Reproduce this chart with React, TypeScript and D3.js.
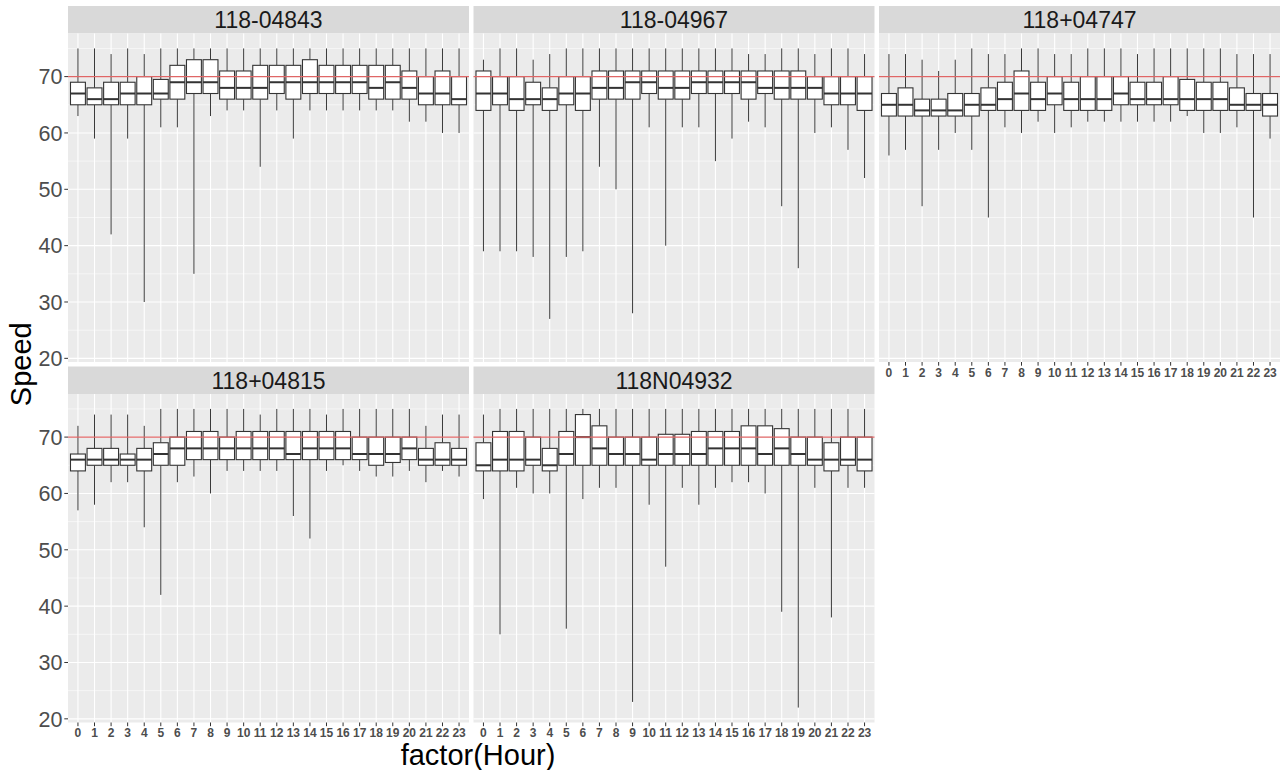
import React, { useEffect, useRef } from "react";
import * as d3 from "d3";

const hours = ["0", "1", "2", "3", "4", "5", "6", "7", "8", "9", "10", "11",
  "12", "13", "14", "15", "16", "17", "18", "19", "20", "21", "22", "23"];

const stations = ["118-04843", "118-04967", "118+04747", "118+04815", "118N04932"];

const yTicks = [20, 30, 40, 50, 60, 70];
const yMinor = [25, 35, 45, 55, 65, 75];
const speedLimit = 70;

// 118-04843
const hi04843 = [75, 75, 74, 75, 74, 75, 75, 75, 75, 75, 75, 75, 75, 75, 75, 75, 75, 75, 75, 75, 75, 75, 75, 75];
const q3_04843 = [69, 68, 69, 69, 70, 69.5, 72, 73, 73, 71, 71, 72, 72, 72, 73, 72, 72, 72, 72, 72, 71, 70, 71, 70];
const med04843 = [67, 66, 66, 67, 67, 67, 69, 69, 69, 68, 68, 68, 69, 69, 69, 69, 69, 69, 68, 69, 68, 67, 67, 66];
const q1_04843 = [65, 65, 65, 65, 65, 66, 66, 67, 67, 66, 66, 66, 67, 66, 67, 67, 67, 67, 66, 66, 66, 65, 65, 65];
const lo04843 = [63, 59, 42, 59, 30, 61, 61, 35, 63, 64, 64, 54, 64, 59, 64, 64, 64, 64, 64, 64, 62, 62, 60, 60];

// 118-04967
const hi04967 = [73, 75, 75, 73, 74, 75, 75, 75, 75, 75, 75, 75, 75, 75, 75, 75, 74, 74, 75, 75, 74, 75, 75, 74];
const q3_04967 = [71, 70, 70, 69, 68, 70, 70, 71, 71, 71, 71, 71, 71, 71, 71, 71, 71, 71, 71, 71, 70, 70, 70, 70];
const med04967 = [67, 67, 66, 66, 66, 67, 67, 68, 68, 69, 69, 68, 68, 69, 69, 69, 69, 68, 68, 68, 68, 67, 67, 67];
const q1_04967 = [64, 65, 64, 65, 64, 65, 64, 66, 66, 66, 67, 66, 66, 67, 67, 67, 66, 67, 66, 66, 66, 65, 65, 64];
const lo04967 = [39, 39, 39, 38, 27, 38, 39, 54, 50, 28, 61, 40, 61, 61, 55, 59, 62, 61, 47, 36, 60, 61, 57, 52];

// 118+04747
const hi04747 = [74, 74, 73, 71, 73, 75, 74, 74, 75, 75, 74, 74, 75, 75, 75, 74, 75, 75, 75, 75, 75, 74, 74, 74];
const q3_04747 = [67, 68, 66, 66, 67, 67, 68, 69, 71, 69, 70, 69, 70, 70, 70, 69, 69, 70, 69.5, 69, 69, 68, 67, 67];
const med04747 = [65, 65, 64, 64, 64, 65, 65, 66, 67, 66, 67, 66, 66, 66, 67, 66, 66, 66, 66, 66, 66, 65, 65, 65];
const q1_04747 = [63, 63, 63, 63, 63, 63, 64, 64, 64, 64, 65, 64, 64, 64, 65, 65, 65, 65, 64, 64, 64, 64, 64, 63];
const lo04747 = [56, 57, 47, 57, 60, 57, 45, 61, 60, 62, 60, 61, 62, 62, 62, 62, 62, 62, 63, 60, 60, 61, 45, 59];

// 118+04815
const hi04815 = [72, 74, 74, 74, 72, 75, 75, 75, 75, 75, 75, 74, 75, 75, 75, 74, 75, 75, 75, 75, 75, 72, 74, 74];
const q3_04815 = [67, 68, 68, 67, 68, 69, 70, 71, 71, 70, 71, 71, 71, 71, 71, 71, 71, 70, 70, 70, 70, 68, 69, 68];
const med04815 = [66, 66, 66, 66, 66, 67, 68, 68, 68, 68, 68, 68, 68, 67, 68, 68, 68, 67, 67, 67, 68, 66, 66, 66];
const q1_04815 = [64, 65, 65, 65, 64, 65, 65, 66, 66, 66, 66, 66, 66, 66, 66, 66, 66, 66, 65, 65.5, 66, 65, 65, 65];
const lo04815 = [57, 58, 62, 62, 54, 42, 62, 63, 60, 64, 64, 64, 64, 56, 52, 64, 65, 64, 63, 63, 64, 62, 64, 63];

// 118N04932
const hi04932 = [74, 75, 75, 75, 75, 75, 75, 75, 75, 75, 75, 75, 75, 75, 75, 75, 75, 75, 75, 75, 75, 75, 75, 75];
const q3_04932 = [69, 71, 71, 70, 68, 71, 74, 72, 70, 70, 70, 70.5, 70.5, 71, 71, 71, 72, 72, 71.5, 70, 70, 69, 70, 70];
const med04932 = [65, 66, 66, 66, 65, 67, 70, 68, 67, 67, 66, 67, 67, 67, 68, 68, 68, 67, 68, 67, 66, 66, 66, 66];
const q1_04932 = [64, 64, 64, 65, 64, 65, 65, 65, 65, 65, 65, 65, 65, 65, 65, 65, 65, 65, 65, 65, 65, 64, 65, 64];
const lo04932 = [59, 35, 61, 60, 60, 36, 59, 61, 61, 23, 58, 47, 61, 58, 61, 62, 62, 60, 39, 22, 61, 38, 61, 61];

const his = [hi04843, hi04967, hi04747, hi04815, hi04932];
const q3s = [q3_04843, q3_04967, q3_04747, q3_04815, q3_04932];
const meds = [med04843, med04967, med04747, med04815, med04932];
const q1s = [q1_04843, q1_04967, q1_04747, q1_04815, q1_04932];
const los = [lo04843, lo04967, lo04747, lo04815, lo04932];

const font = "'Liberation Sans', Arial, sans-serif";

export default function App() {
  const ref = useRef<SVGSVGElement>(null);

  const width = 1287;
  const height = 770;
  const left = 68;
  const panelW = 401;
  const gap = 4.5;
  const stripH = 27.5;
  const panelH = 328.5;
  const rowTops = [6, 366.5];

  useEffect(() => {
    const svg = d3.select(ref.current).html(null);

    // ggplot style 5% expansion over every whisker end
    const all = los.flat().concat(his.flat());
    const lo = d3.min(all) as number;
    const hi = d3.max(all) as number;
    const pad = (hi - lo) * 0.05;

    const y = d3.scaleLinear().domain([lo - pad, hi + pad]).range([panelH, 0]);
    const x = d3.scalePoint<string>().domain(hours).range([0, panelW]).padding(0.6);
    const boxW = x.step() * 0.9;

    stations.forEach((name, s) => {
      const col = s % 3;
      const row = Math.floor(s / 3);
      const x0 = left + col * (panelW + gap);
      const top = rowTops[row];

      // strip
      svg.append("rect")
        .attr("x", x0).attr("y", top)
        .attr("width", panelW).attr("height", stripH)
        .attr("fill", "#D9D9D9");
      svg.append("text")
        .attr("x", x0 + panelW / 2).attr("y", top + stripH / 2)
        .attr("dy", "0.36em")
        .attr("text-anchor", "middle")
        .attr("font-family", font).attr("font-size", 23)
        .attr("fill", "#1A1A1A")
        .text(name);

      const g = svg.append("g").attr("transform", `translate(${x0},${top + stripH})`);

      g.append("rect").attr("width", panelW).attr("height", panelH).attr("fill", "#EBEBEB");

      g.selectAll("line.minor").data(yMinor).enter().append("line")
        .attr("x1", 0).attr("x2", panelW)
        .attr("y1", (d) => y(d)).attr("y2", (d) => y(d))
        .attr("stroke", "#fff").attr("stroke-width", 0.55);
      g.selectAll("line.major").data(yTicks).enter().append("line")
        .attr("x1", 0).attr("x2", panelW)
        .attr("y1", (d) => y(d)).attr("y2", (d) => y(d))
        .attr("stroke", "#fff").attr("stroke-width", 1.1);
      g.selectAll("line.vgrid").data(hours).enter().append("line")
        .attr("x1", (d) => x(d)!).attr("x2", (d) => x(d)!)
        .attr("y1", 0).attr("y2", panelH)
        .attr("stroke", "#fff").attr("stroke-width", 1.1);

      const boxes = hours.map((h, i) => ({
        h, lo: los[s][i], q1: q1s[s][i], med: meds[s][i], q3: q3s[s][i], hi: his[s][i]
      }));

      const b = g.selectAll("g.box").data(boxes).enter().append("g");
      b.append("line")
        .attr("x1", (d) => x(d.h)!).attr("x2", (d) => x(d.h)!)
        .attr("y1", (d) => y(d.hi)).attr("y2", (d) => y(d.q3))
        .attr("stroke", "#3a3a3a").attr("stroke-width", 1);
      b.append("line")
        .attr("x1", (d) => x(d.h)!).attr("x2", (d) => x(d.h)!)
        .attr("y1", (d) => y(d.q1)).attr("y2", (d) => y(d.lo))
        .attr("stroke", "#3a3a3a").attr("stroke-width", 1);
      b.append("rect")
        .attr("x", (d) => x(d.h)! - boxW / 2)
        .attr("y", (d) => y(d.q3))
        .attr("width", boxW)
        .attr("height", (d) => y(d.q1) - y(d.q3))
        .attr("fill", "#fff").attr("stroke", "#333").attr("stroke-width", 1.1);
      b.append("line")
        .attr("x1", (d) => x(d.h)! - boxW / 2).attr("x2", (d) => x(d.h)! + boxW / 2)
        .attr("y1", (d) => y(d.med)).attr("y2", (d) => y(d.med))
        .attr("stroke", "#333").attr("stroke-width", 2);

      // speed limit
      g.append("line")
        .attr("x1", 0).attr("x2", panelW)
        .attr("y1", y(speedLimit)).attr("y2", y(speedLimit))
        .attr("stroke", "#E06666").attr("stroke-width", 1.1);

      // y axis on the left column
      if (col === 0) {
        const ya = g.append("g");
        ya.selectAll("line").data(yTicks).enter().append("line")
          .attr("x1", -3.7).attr("x2", 0)
          .attr("y1", (d) => y(d)).attr("y2", (d) => y(d))
          .attr("stroke", "#333").attr("stroke-width", 1);
        ya.selectAll("text").data(yTicks).enter().append("text")
          .attr("x", -5.5).attr("y", (d) => y(d))
          .attr("dy", "0.36em")
          .attr("text-anchor", "end")
          .attr("font-family", font).attr("font-size", 21.5)
          .attr("fill", "#4D4D4D")
          .text((d) => d);
      }

      // x axis where nothing sits below
      if (row === 1 || col === 2) {
        const xa = g.append("g").attr("transform", `translate(0,${panelH})`);
        xa.selectAll("line").data(hours).enter().append("line")
          .attr("x1", (d) => x(d)!).attr("x2", (d) => x(d)!)
          .attr("y1", 0).attr("y2", 3.7)
          .attr("stroke", "#333").attr("stroke-width", 1);
        xa.selectAll("text").data(hours).enter().append("text")
          .attr("x", (d) => x(d)!).attr("y", 14.5)
          .attr("text-anchor", "middle")
          .attr("font-family", font).attr("font-size", 12)
          .attr("font-weight", "bold")
          .attr("fill", "#4D4D4D")
          .text((d) => d);
      }
    });

    svg.append("text")
      .attr("transform", `translate(31,${(rowTops[0] + rowTops[1] + stripH + panelH) / 2}) rotate(-90)`)
      .attr("text-anchor", "middle")
      .attr("font-family", font).attr("font-size", 29)
      .attr("fill", "#000")
      .text("Speed");

    svg.append("text")
      .attr("x", 478).attr("y", 765)
      .attr("text-anchor", "middle")
      .attr("font-family", font).attr("font-size", 29)
      .attr("fill", "#000")
      .text("factor(Hour)");
  });

  return (
    <svg
      ref={ref}
      width={width}
      height={height}
      style={{ position: "absolute", left: 0, top: 0, background: "#fff" }}
    />
  );
}
